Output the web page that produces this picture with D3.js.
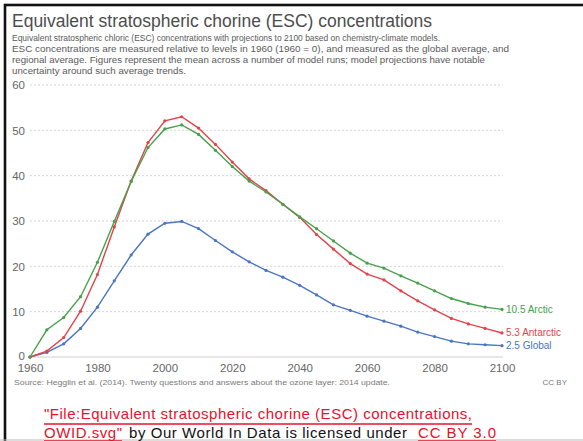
<!DOCTYPE html>
<html><head><meta charset="utf-8">
<script src="https://cdn.jsdelivr.net/npm/d3@7"></script>
<style>
html,body{margin:0;padding:0;background:#fff;}
svg{display:block;font-family:"Liberation Sans",Arial,Helvetica,sans-serif;}
</style></head>
<body>
<svg id="c" width="583" height="441"></svg>
<script>
const years = [1960,1965,1970,1975,1980,1985,1990,1995,2000,2005,2010,2015,2020,2025,2030,2035,2040,2045,2050,2055,2060,2065,2070,2075,2080,2085,2090,2095,2100];
const arctic = [0,6.0,8.7,13.3,20.9,29.9,38.7,46.2,50.3,51.2,49.1,45.6,42.0,38.8,36.4,33.7,30.9,28.3,25.6,22.9,20.7,19.6,17.9,16.3,14.6,12.9,11.8,11.0,10.5];
const antarctic = [0,1.3,4.3,10.1,18.2,28.7,38.8,47.3,52.1,53.0,50.5,46.9,43.0,39.3,36.7,33.7,30.8,27.0,23.8,20.6,18.3,17.0,14.6,12.4,10.4,8.5,7.3,6.3,5.3];
const global = [0,1.0,2.9,6.3,11.0,16.8,22.5,27.1,29.5,29.9,28.3,25.7,23.2,21.0,19.1,17.6,15.8,13.7,11.5,10.3,9.0,7.9,6.8,5.5,4.5,3.5,2.9,2.7,2.5];
const seriesNames = ["Arctic","Antarctic","Global"];
const xTicks = [1960,1980,2000,2020,2040,2060,2080,2100];
const yTicks = [0,10,20,30,40,50,60];
const title = "Equivalent stratospheric chorine (ESC) concentrations";
const subtitle = [
 "Equivalent stratospheric chloric (ESC) concentrations with projections to 2100 based on chemistry-climate models.",
 "ESC concentrations are measured relative to levels in 1960 (1960 = 0), and measured as the global average, and",
 "regional average. Figures represent the mean across a number of model runs; model projections have notable",
 "uncertainty around such average trends."
];
const sourceText = "Source: Hegglin et al. (2014). Twenty questions and answers about the ozone layer: 2014 update.";

const svg = d3.select("#c");
const colors = {Arctic:"#46a14a", Antarctic:"#e2434a", Global:"#4a74c4"};
const data = {Arctic:arctic, Antarctic:antarctic, Global:global};

// frame
svg.append("rect").attr("x",5).attr("y",5).attr("width",600).attr("height",460)
  .attr("fill","none").attr("stroke","#111").attr("stroke-width",2.6);

// title
svg.append("text").attr("x",12).attr("y",27).attr("font-size",17.5).attr("fill","#4d4d4d")
  .attr("textLength",420).attr("lengthAdjust","spacingAndGlyphs").text(title);
const subW=[428,497,473,174];
subtitle.forEach((s,i)=>{
  svg.append("text").attr("x",12).attr("y",41+i*11).attr("font-size",9.2).attr("fill","#5a5a5a")
   .attr("textLength",subW[i]).attr("lengthAdjust","spacingAndGlyphs").text(s);
});

const x = d3.scaleLinear().domain([1960,2100]).range([30,502]);
const y = d3.scaleLinear().domain([0,60]).range([357,85]);

// grid
const g = svg.append("g");
g.selectAll("line.grid").data(yTicks.filter(d=>d>0)).join("line")
  .attr("x1",30).attr("x2",503).attr("y1",d=>y(d)).attr("y2",d=>y(d))
  .attr("stroke","#d6d6d6").attr("stroke-width",1).attr("stroke-dasharray","2,2");
g.append("line").attr("x1",30).attr("x2",503).attr("y1",y(0)).attr("y2",y(0))
  .attr("stroke","#d0d0d0").attr("stroke-width",1.2);

// axes
const yAxis = d3.axisLeft(y).tickValues(yTicks).tickSize(0).tickPadding(3);
const ya = svg.append("g").attr("transform","translate(28,0)").call(yAxis);
ya.select(".domain").remove();
ya.selectAll("text").attr("font-size",11.5).attr("fill","#666").attr("font-family","Liberation Sans,Arial,sans-serif");
ya.selectAll(".tick").filter(d=>d===0).select("text").attr("dy","0.2em");
const xAxis = d3.axisBottom(x).tickValues(xTicks).tickFormat(d3.format("d")).tickSize(0).tickPadding(5);
const xa = svg.append("g").attr("transform","translate(0,359)").call(xAxis);
xa.select(".domain").remove();
xa.selectAll("text").attr("font-size",11.5).attr("fill","#666").attr("font-family","Liberation Sans,Arial,sans-serif");

// lines
const line = d3.line().x((d,i)=>x(years[i])).y(d=>y(d));
["Global","Antarctic","Arctic"].forEach(name=>{
  const vals = data[name];
  svg.append("path").datum(vals).attr("d",line).attr("fill","none")
    .attr("stroke",colors[name]).attr("stroke-width",1.4);
  svg.append("g").selectAll("circle").data(vals).join("circle")
    .attr("cx",(d,i)=>x(years[i])).attr("cy",d=>y(d)).attr("r",1.6).attr("fill",colors[name]);
});

// end labels
seriesNames.forEach(name=>{
  const vals=data[name]; const last=vals[vals.length-1];
  svg.append("text").attr("x",x(2100)+4).attr("y",y(last)).attr("dy","0.35em")
   .attr("font-size",10).attr("fill",colors[name]).text(last+" "+name);
});

// source
svg.append("text").attr("x",14).attr("y",385).attr("font-size",8).attr("fill","#7a7a7a")
  .attr("textLength",376).attr("lengthAdjust","spacingAndGlyphs").text(sourceText);
svg.append("text").attr("x",567).attr("y",385).attr("font-size",8).attr("fill","#7a7a7a")
  .attr("text-anchor","end").text("CC BY");

// separation line at bottom
svg.append("line").attr("x1",0).attr("x2",583).attr("y1",440).attr("y2",440).attr("stroke","#bbb").attr("stroke-width",1.2);

// attribution
const red="#e8102a";
const att = svg.append("g").attr("font-family","Liberation Sans,Arial,sans-serif").attr("font-size",15);
att.append("text").attr("x",44).attr("y",419).attr("fill",red)
  .attr("textLength",428).attr("lengthAdjust","spacing")
  .text("\"File:Equivalent stratospheric chorine (ESC) concentrations,");
att.append("line").attr("x1",44).attr("x2",472).attr("y1",424).attr("y2",424).attr("stroke",red).attr("stroke-width",1.6);
att.append("text").attr("x",44).attr("y",438).attr("fill",red)
  .attr("textLength",78).attr("lengthAdjust","spacing").text("OWID.svg\"");
att.append("line").attr("x1",44).attr("x2",122).attr("y1",441).attr("y2",441).attr("stroke",red).attr("stroke-width",1.6);
att.append("text").attr("x",129).attr("y",438).attr("fill","#111")
  .attr("textLength",278).attr("lengthAdjust","spacing").text("by Our World In Data is licensed under");
att.append("text").attr("x",418).attr("y",438).attr("fill",red)
  .attr("textLength",78).attr("lengthAdjust","spacing").text("CC BY 3.0");
att.append("line").attr("x1",418).attr("x2",496).attr("y1",441).attr("y2",441).attr("stroke",red).attr("stroke-width",1.6);
</script>
</body></html>
